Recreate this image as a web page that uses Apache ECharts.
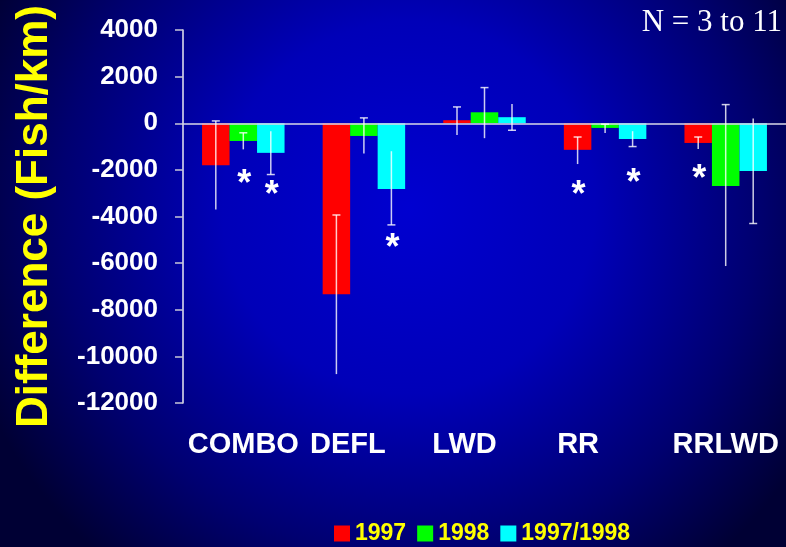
<!DOCTYPE html>
<html lang="en">
<head>
    <meta charset="UTF-8">
    <title>Difference (Fish/km)</title>
    <script src="https://cdn.jsdelivr.net/npm/echarts@6/dist/echarts.min.js"></script>
    <style>
        html, body { margin: 0; padding: 0; }
        #main { width: 786px; height: 547px; }
    </style>
</head>
<body>
<div id="main"></div>
<script>
    // categories and series
    var categories = ['COMBO', 'DEFL', 'LWD', 'RR', 'RRLWD'];
    var seriesNames = ['1997', '1998', '1997/1998'];
    var seriesColors = ['#ff0000', '#00ff00', '#00ffff'];

    // mean difference per category
    var vals1997 = [-1800, -7330, 130, -1140, -845];
    var vals1998 = [-760, -545, 470, -200, -2690];
    var vals9798 = [-1270, -2820, 260, -675, -2050];

    // error bar ends
    var low1997 = [-3700, -10760, -500, -1750, -1100];
    var high1997 = [100, -3935, 700, -590, -590];
    var low1998 = [-1120, -1300, -640, -420, -6125];
    var high1998 = [-410, 230, 1530, -40, 800];
    var low9798 = [-2200, -4360, -300, -1000, -4300];
    var high9798 = [-340, -1200, 830, -340, 200];

    // significance asterisks: category, series, value
    var starCat = [0, 0, 1, 3, 3, 4];
    var starSeries = [1, 2, 2, 0, 2, 0];
    var starValue = [-2250, -2720, -5030, -2730, -2220, -2060];

    var yMin = -12000, yMax = 4000, yStep = 2000;

    var font = '"Liberation Sans", Arial, sans-serif';
    var barFrac = 0.228;
    var labelShift = [0, -16, -20, -27, 0];

    var allVals = [vals1997, vals1998, vals9798];
    var allLow = [low1997, low1998, low9798];
    var allHigh = [high1997, high1998, high9798];

    function errorRender(slot, capTop) {
        return function (params, api) {
            var c = api.value(0);
            var bw = api.size([1, 0])[0] * barFrac;
            var x = api.coord([c, 0])[0] + (slot - 1) * bw;
            var yLo = api.coord([c, api.value(1)])[1];
            var yHi = api.coord([c, api.value(2)])[1];
            var yc = capTop ? yHi : yLo;
            var st = { stroke: 'rgba(255,255,255,0.8)', lineWidth: 1.5 };
            return {
                type: 'group',
                children: [
                    { type: 'line', shape: { x1: x, y1: yHi, x2: x, y2: yLo }, style: st },
                    { type: 'line', shape: { x1: x - 4, y1: yc, x2: x + 4, y2: yc }, style: st }
                ]
            };
        };
    }

    var series = [];
    for (var s = 0; s < 3; s++) {
        series.push({
            name: seriesNames[s],
            type: 'bar',
            barWidth: (barFrac * 100) + '%',
            barGap: '0%',
            itemStyle: { color: seriesColors[s] },
            data: allVals[s]
        });
    }
    for (var s2 = 0; s2 < 3; s2++) {
        var errData = [];
        for (var i = 0; i < categories.length; i++) {
            errData.push([i, allLow[s2][i], allHigh[s2][i]]);
        }
        series.push({
            type: 'custom',
            z: 5,
            renderItem: errorRender(s2, s2 < 2),
            data: errData
        });
    }
    var starData = [];
    for (var k = 0; k < starCat.length; k++) {
        starData.push([starCat[k], starSeries[k], starValue[k]]);
    }
    series.push({
        type: 'custom',
        z: 6,
        renderItem: function (params, api) {
            var c = api.value(0);
            var bw = api.size([1, 0])[0] * barFrac;
            var p = api.coord([c, api.value(2)]);
            return {
                type: 'text',
                style: {
                    x: p[0] + (api.value(1) - 1) * bw + 1,
                    y: p[1] + 9,
                    text: '*',
                    fill: '#ffffff',
                    font: 'bold 36px ' + font,
                    align: 'center',
                    verticalAlign: 'middle'
                }
            };
        },
        data: starData
    });

    var labelData = categories.map(function (c, i) {
        return { value: c, textStyle: labelShift[i] < 0 ? { padding: [0, -2 * labelShift[i], 0, 0] } : {} };
    });

    var myChart = echarts.init(document.getElementById('main'));
    var option = {
        backgroundColor: {
            type: 'radial', x: 0.52, y: 0.38, r: 0.85,
            colorStops: [
                { offset: 0, color: '#0000d0' },
                { offset: 0.4, color: '#0000b8' },
                { offset: 0.75, color: '#000070' },
                { offset: 1, color: '#000034' }
            ]
        },
        animation: false,
        title: {
            text: 'N = 3 to 11',
            right: -1,
            top: 2,
            textStyle: { color: '#ffffff', fontFamily: '"Liberation Serif", "Times New Roman", serif', fontSize: 31, fontWeight: 'normal' }
        },
        legend: {
            data: seriesNames,
            left: 329,
            top: 517,
            icon: 'rect',
            itemWidth: 16,
            itemHeight: 16,
            itemGap: 11,
            textStyle: { color: '#ffff00', fontFamily: font, fontWeight: 'bold', fontSize: 23 }
        },
        grid: { left: 183, top: 30, height: 373, right: -4 },
        xAxis: [
            {
                type: 'category',
                data: categories,
                position: 'top',
                z: 4,
                axisLine: { onZero: true, lineStyle: { color: '#d8d8e8', width: 1.5 } },
                axisTick: { inside: true, length: 9, lineStyle: { color: '#d8d8e8', width: 1.5 } },
                axisLabel: { show: false },
                splitLine: { show: false }
            },
            {
                type: 'category',
                data: labelData,
                position: 'bottom',
                axisLine: { show: false, onZero: false },
                axisTick: { show: false },
                axisLabel: { interval: 0, color: '#ffffff', fontFamily: font, fontWeight: 'bold', fontSize: 29, margin: 27 },
                splitLine: { show: false }
            }
        ],
        yAxis: {
            type: 'value',
            min: yMin,
            max: yMax,
            interval: yStep,
            name: 'Difference (Fish/km)',
            nameLocation: 'middle',
            nameRotate: 90,
            nameGap: 126,
            nameTextStyle: { color: '#ffff00', fontFamily: font, fontWeight: 'bold', fontSize: 44 },
            axisLine: { show: true, lineStyle: { color: '#e8e8f0', width: 1.5 } },
            axisTick: { show: true, length: 8, lineStyle: { color: '#c8c8d8', width: 1.5 } },
            axisLabel: {
                color: '#ffffff', fontFamily: font, fontWeight: 'bold', fontSize: 26, margin: 25,
                formatter: function (v) { return String(v); }
            },
            splitLine: { show: false }
        },
        series: series
    };
    myChart.setOption(option);
</script>
</body>
</html>
